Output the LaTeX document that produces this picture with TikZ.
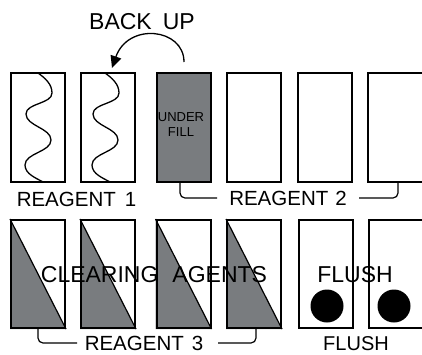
\documentclass[tikz,border=0pt]{standalone}
\usepackage{fontspec}
\setmainfont{Liberation Sans}
\usetikzlibrary{arrows.meta,backgrounds}
\definecolor{fillgray}{RGB}{121,124,127}
\tikzset{
  wavy/.pic={
    \draw[line width=1.3pt] (38,73) .. controls (45,78) and (52,84) .. (52,93)
      .. controls (52,104) and (26,103) .. (26,114)
      .. controls (26,126) and (51,128) .. (51,140)
      .. controls (51,152) and (25,153) .. (25,165)
      .. controls (25,174) and (36,178) .. (43,182);
  }
}
\begin{document}
\begin{tikzpicture}[x=1pt,y=-1pt,
  slot/.style={draw=black,line width=2pt,rectangle,inner sep=0pt,minimum width=54pt},
  toprow/.style={slot,minimum height=109pt},
  botrow/.style={slot,minimum height=108pt},
  brk/.style={line width=1.2pt,rounded corners=5pt},
  lbl/.style={inner sep=0pt,anchor=base},
  big/.style={lbl,font=\fontsize{23}{23}\selectfont},
  mid/.style={lbl,font=\fontsize{20.5}{20.5}\selectfont},
  small/.style={lbl,font=\fontsize{13}{13}\selectfont},
  dot/.style={circle,fill=black,inner sep=0pt,minimum size=33pt},
  ]
\useasboundingbox (0,0) rectangle (422,354);
\clip (0,0) rectangle (422,354);

% top row
\node[toprow] (t1) at (38,127.5) {};
\node[toprow] (t2) at (108,127.5) {};
\node[toprow,fill=fillgray] (t3) at (183.5,127.5) {};
\node[toprow] (t4) at (253.5,127.5) {};
\node[toprow] (t5) at (325,127.5) {};
\node[toprow,minimum width=70pt] (t6) at (403,127.5) {};

\pic at (0,0) {wavy};
\pic at (67,0) {wavy};

\node[small] (under) at (181,121) {UNDER};
\node[small] (fill) at (181,136) {FILL};

% back up arrow
\coordinate (bs) at (184,62);
\coordinate (bt) at (112,68);
\draw[line width=1.3pt,-{Triangle[length=12pt,width=11pt]}] (bs) .. controls (184,28) and (128,22) .. (bt);
\node[big] (backup) at (142,29) {BACK\hspace{11pt}UP};

% reagent labels top
\node[mid] (r1) at (76.5,206) {REAGENT\hspace{9pt}1};
\node[mid] (r2) at (288,205.5) {REAGENT\hspace{7pt}2};
\coordinate (r2l) at (217,198);
\coordinate (r2r) at (359,198);
\draw[brk] (180,183) |- (r2l);
\draw[brk] (r2r) -| (398,183);

% bottom row
\node[botrow] (c1) at (38,274) {};
\node[botrow] (c2) at (108,274) {};
\node[botrow] (c3) at (183.5,274) {};
\node[botrow] (c4) at (254,274) {};
\node[botrow] (f1) at (325.5,274) {};
\node[botrow,minimum width=70pt] (f2) at (404,274) {};

\begin{scope}[on background layer]
  \foreach \n in {c1,c2,c3,c4}
    \fill[fillgray] (\n.north west) -- (\n.south east) -- (\n.south west) -- cycle;
\end{scope}
\foreach \n in {c1,c2,c3,c4}
  \draw[line width=1.2pt] (\n.north west) -- (\n.south east);

\node[dot] (d1) at (327,306) {};
\node[dot] (d2) at (394,306) {};

\node[big] (clear) at (154,282) {CLEARING\hspace{14pt}AGENTS};
\node[big] (flush1) at (355,282) {FLUSH};

\node[mid] (r3) at (144,350) {REAGENT\hspace{8pt}3};
\coordinate (r3l) at (77,343);
\coordinate (r3r) at (218,343);
\draw[brk] (38,329) |- (r3l);
\draw[brk] (r3r) -| (256,329);
\node[mid,font=\fontsize{20}{20}\selectfont] (flush2) at (356,350) {FLUSH};
\end{tikzpicture}
\end{document}
